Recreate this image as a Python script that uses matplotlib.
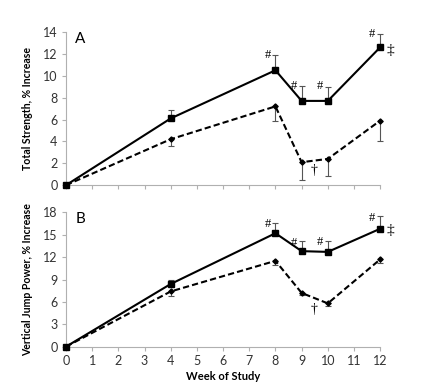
import matplotlib
matplotlib.use("Agg")
import matplotlib.pyplot as plt

plt.rcParams["font.family"] = ["Lato", "DejaVu Sans"]

weeks = [0, 4, 8, 9, 10, 12]

# Panel A: Total strength
a_solid = [0, 6.1, 10.5, 7.7, 7.7, 12.6]
a_solid_err = [0, 0.8, 1.35, 1.35, 1.3, 1.2]
a_dash = [0, 4.2, 7.2, 2.1, 2.4, 5.9]
a_dash_err = [0, 0.6, 1.3, 1.6, 1.55, 1.9]

# Panel B: Vertical jump power
b_solid = [0, 8.4, 15.2, 12.8, 12.7, 15.8]
b_solid_err = [0, 0.5, 1.4, 1.35, 1.5, 1.7]
b_dash = [0, 7.4, 11.5, 7.2, 5.8, 11.7]
b_dash_err = [0, 0.6, 0.5, 0.3, 0.3, 0.5]

x_ticks = list(range(0, 13))
a_yticks = [0, 2, 4, 6, 8, 10, 12, 14]
b_yticks = [0, 3, 6, 9, 12, 15, 18]

fig = plt.figure(figsize=(4.34, 3.85), dpi=100)
axA = fig.add_axes([0.152, 0.519, 0.724, 0.398])
axB = fig.add_axes([0.152, 0.0995, 0.724, 0.349])

spine_col = "#b0b0b0"
txt_col = "#333333"
serif = ["Liberation Serif", "DejaVu Serif"]

def style(ax, yticks, ylabel, letter, xlabels):
    ax.set_xlim(0, 12)
    ax.set_ylim(yticks[0], yticks[-1])
    ax.set_yticks(yticks)
    ax.set_xticks(x_ticks)
    for s in ["top", "right"]:
        ax.spines[s].set_visible(False)
    for s in ["left", "bottom"]:
        ax.spines[s].set_color(spine_col)
        ax.spines[s].set_linewidth(0.8)
    ax.tick_params(axis="both", direction="out", length=3, width=0.8,
                   color=spine_col, labelsize=9, labelcolor=txt_col, pad=3)
    if not xlabels:
        ax.set_xticklabels([])
    ax.set_ylabel(ylabel, fontsize=7.6, fontweight="bold")
    ax.yaxis.set_label_coords(-0.105, 0.5)
    ax.text(0.35, yticks[-1], letter, fontsize=11, ha="left", va="top")

def draw(ax, ys, ye, yd, yde):
    ax.errorbar(weeks, ys, yerr=[[0]*len(ye), ye], color="black", lw=1.5,
                marker="s", ms=4.5, elinewidth=0.8, ecolor="#555555",
                capsize=2, capthick=0.8, clip_on=False, zorder=3)
    ax.errorbar(weeks, yd, yerr=[yde, [0]*len(yde)], color="black", lw=1.5,
                ls=(0, (3, 1.5)), marker="D", ms=2.6, elinewidth=0.8,
                ecolor="#555555", capsize=2, capthick=0.8, clip_on=False, zorder=3)

style(axA, a_yticks, "Total Strength, % Increase", "A", False)
draw(axA, a_solid, a_solid_err, a_dash, a_dash_err)
style(axB, b_yticks, "Vertical Jump Power, % Increase", "B", True)
draw(axB, b_solid, b_solid_err, b_dash, b_dash_err)
axB.set_xlabel("Week of Study", fontsize=8, fontweight="bold", labelpad=3)

# annotations
for i in [2, 3, 4, 5]:
    axA.text(weeks[i] - 0.3, a_solid[i] + a_solid_err[i] + 0.05, "#",
             fontsize=9, ha="center", va="center", family=serif, zorder=5)
    axB.text(weeks[i] - 0.3, b_solid[i] + b_solid_err[i] - 0.2, "#",
             fontsize=9, ha="center", va="center", family=serif, zorder=5)
axA.text(9.47, 1.3, "†", fontsize=10, ha="center", va="center", family=serif)
axB.text(9.47, 5.0, "†", fontsize=10, ha="center", va="center", family=serif)
axA.text(12.4, 12.3, "‡", fontsize=11, ha="center", va="center", family=serif)
axB.text(12.4, 15.6, "‡", fontsize=11, ha="center", va="center", family=serif)

fig.savefig("out.png", dpi=100)
